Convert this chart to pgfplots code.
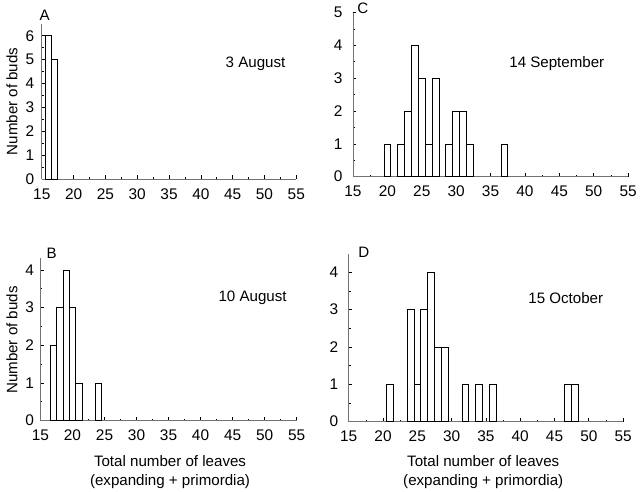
\documentclass[border=0pt]{standalone}
\usepackage{pgfplots}
\pgfplotsset{compat=1.18}
\usepackage{fontspec}
\setmainfont{Liberation Sans}
\begin{document}
\begin{tikzpicture}[x=1pt,y=1pt]
\pgfplotsset{
  hist/.style={
    scale only axis,
    anchor=south west,
    axis lines*=left,
    axis line style={draw=black!55, line width=0.9pt},
    tick align=inside,
    major tick length=3.5pt,
    minor tick length=2pt,
    tick style={black, line width=0.7pt},
    xmin=15, xmax=55, ymin=0,
    xtick={15,20,...,55},
    minor x tick num=1,
    minor y tick num=1,
    ticklabel style={font=\fontsize{15.5}{17}\selectfont},
    /pgf/number format/assume math mode=true,
    xticklabel style={yshift=-6pt},
    clip=false,
  },
  bars/.style={ybar, bar width=1, fill=white, draw=black, line width=0.7pt},
}
\path (0,0) rectangle (640,494);
% Panel A
\begin{axis}[hist, at={(42pt,314pt)}, width=256pt, height=156pt, ymax=6.5, ytick={0,...,6}, yticklabel style={xshift=-4pt}]
\addplot[bars] coordinates {(16,6) (17,5)};
\end{axis}
% Panel C
\begin{axis}[hist, at={(355pt,316.3pt)}, width=276.7pt, height=165pt, ymax=5, ytick={0,...,5}, yticklabel style={xshift=-7pt}]
\addplot[bars] coordinates {(20,1) (22,1) (23,2) (24,4) (25,3) (26,1) (27,3) (29,1) (30,2) (31,2) (32,1) (37,1)};
\end{axis}
% Panel B
\begin{axis}[hist, at={(40.7pt,71pt)}, width=257.6pt, height=164pt, ymax=4.33, ytick={0,...,4}, yticklabel style={xshift=-3pt}]
\addplot[bars] coordinates {(17,2) (18,3) (19,4) (20,3) (21,1) (24,1)};
\end{axis}
% Panel D
\begin{axis}[hist, at={(350.7pt,70pt)}, width=276pt, height=169pt, ymax=4.5, ytick={0,...,4}, yticklabel style={xshift=-7pt}]
\addplot[bars] coordinates {(21,1) (24,3) (25,1) (26,3) (27,4) (28,2) (29,2) (32,1) (34,1) (36,1) (47,1) (48,1)};
\end{axis}
\begin{scope}[every node/.style={font=\fontsize{15.2}{17}\selectfont, inner sep=0pt}]
\node at (45,479) {A};
\node at (365,486) {C};
\node at (52,239) {B};
\node at (366,240) {D};
\node at (257,430) {3 August};
\node at (560,430) {14 September};
\node at (254,194) {10 August};
\node at (569,194) {15 October};
\node[rotate=90] at (12,392) {Number of buds};
\node[rotate=90] at (12,152) {Number of buds};
\node at (171,30) {Total number of leaves};
\node at (171,10) {(expanding + primordia)};
\node at (486,30) {Total number of leaves};
\node at (486,10) {(expanding + primordia)};
\end{scope}
\end{tikzpicture}
\end{document}
